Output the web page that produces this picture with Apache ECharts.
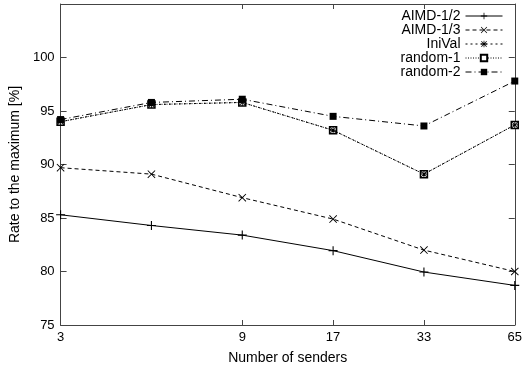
<!DOCTYPE html>
<html>
<head>
<meta charset="utf-8">
<script src="https://cdn.jsdelivr.net/npm/echarts@6/dist/echarts.min.js"></script>
<style>html,body{margin:0;padding:0;background:#fff}#c{width:525px;height:371px}</style>
</head>
<body>
<div id="c"></div>
<script>
const categories = ["3", "5", "9", "17", "33", "65"];
const aimd12 = [85.3, 84.3, 83.4, 81.95, 79.95, 78.7];
const aimd13 = [89.7, 89.1, 86.9, 84.9, 82.0, 80.0];
const iniVal = [94.0, 95.6, 95.8, 93.2, 89.1, 93.7];
const random1 = [94.0, 95.6, 95.8, 93.2, 89.1, 93.7];
const random2 = [94.2, 95.8, 96.1, 94.5, 93.6, 97.8];
const yTicks = [75, 80, 85, 90, 95, 100];

const FONT = 'Liberation Sans';
const plusSym = 'path://M4.4,0H5.6V4.4H10V5.6H5.6V10H4.4V5.6H0V4.4H4.4Z';
const xSym = 'path://M0.8,0L5,4.2L9.2,0L10,0.8L5.8,5L10,9.2L9.2,10L5,5.8L0.8,10L0,9.2L4.2,5L0,0.8Z';
const starSym = 'path://M4.4,0H5.6V4.4H10V5.6H5.6V10H4.4V5.6H0V4.4H4.4ZM1.2,0.4L5,4.2L8.8,0.4L9.6,1.2L5.8,5L9.6,8.8L8.8,9.6L5,5.8L1.2,9.6L0.4,8.8L4.2,5L0.4,1.2Z';

function mk(name, data, dash, symbol, size, opts) {
  return Object.assign({
    name: name, type: 'line', data: data, symbol: symbol, symbolSize: size,
    showSymbol: true,
    lineStyle: {color: '#000', width: 1, type: dash},
    itemStyle: {color: '#000', borderColor: '#000', borderWidth: 0},
    emphasis: {disabled: true}, animation: false
  }, opts || {});
}

const chart = echarts.init(document.getElementById('c'));
const axisLineStyle = {color: '#444', width: 1};
chart.setOption({
  animation: false,
  textStyle: {fontFamily: FONT},
  grid: {left: 47, right: 7, top: 4, bottom: 46, containLabel: false},
  legend: {
    orient: 'vertical', right: 22, top: 9, align: 'right',
    itemWidth: 37, itemHeight: 8, itemGap: 0, padding: 0,
    lineStyle: {width: 1},
    textStyle: {fontFamily: FONT, fontSize: 14, lineHeight: 13.5, color: '#000', padding: [0, 0, 0, 0]},
    data: ['AIMD-1/2', 'AIMD-1/3', 'IniVal', 'random-1', 'random-2']
  },
  xAxis: [{
    type: 'category', data: categories, boundaryGap: false,
    name: 'Number of senders', nameLocation: 'middle', nameGap: 26,
    nameTextStyle: {fontFamily: FONT, fontSize: 14, color: '#000'},
    axisLine: {lineStyle: axisLineStyle},
    axisTick: {inside: true, length: 5, lineStyle: axisLineStyle, interval: function (i) { return i !== 1 && i !== 0 && i !== 5; }},
    axisLabel: {fontFamily: FONT, fontSize: 13, color: '#000', margin: 6, interval: function (i) { return i !== 1; }},
    splitLine: {show: false}
  }, {
    type: 'category', data: categories, boundaryGap: false, position: 'top',
    axisLine: {lineStyle: axisLineStyle},
    axisTick: {inside: true, length: 5, lineStyle: axisLineStyle, interval: function (i) { return i !== 1 && i !== 0 && i !== 5; }},
    axisLabel: {show: false}, splitLine: {show: false}
  }],
  yAxis: [{
    type: 'value', min: 75, max: 105, interval: 5,
    name: 'Rate to the maximum [%]', nameLocation: 'middle', nameGap: 29,
    nameTextStyle: {fontFamily: FONT, fontSize: 14, color: '#000'},
    axisLine: {show: true, lineStyle: axisLineStyle},
    axisTick: {show: true, inside: true, length: 6, lineStyle: axisLineStyle},
    axisLabel: {fontFamily: FONT, fontSize: 13, color: '#000', margin: 6,
      formatter: function (v) { return yTicks.indexOf(v) >= 0 ? String(v) : ''; }},
    splitLine: {show: false}
  }, {
    type: 'value', min: 75, max: 105, interval: 5, position: 'right',
    axisLine: {show: true, lineStyle: axisLineStyle},
    axisTick: {show: true, inside: true, length: 6, lineStyle: axisLineStyle},
    axisLabel: {show: false}, splitLine: {show: false}
  }],
  series: [
    mk('AIMD-1/2', aimd12, 'solid', plusSym, 9),
    mk('AIMD-1/3', aimd13, [4, 3], xSym, 8),
    mk('IniVal', iniVal, [2, 3], starSym, 7, {z: 4}),
    mk('random-1', random1, [1, 1.5], 'rect', 7, {itemStyle: {color: '#fff', borderColor: '#000', borderWidth: 1.5}}),
    mk('random-2', random2, [6, 3, 1, 3], 'rect', 7, {z: 3})
  ]
});
</script>
</body>
</html>
